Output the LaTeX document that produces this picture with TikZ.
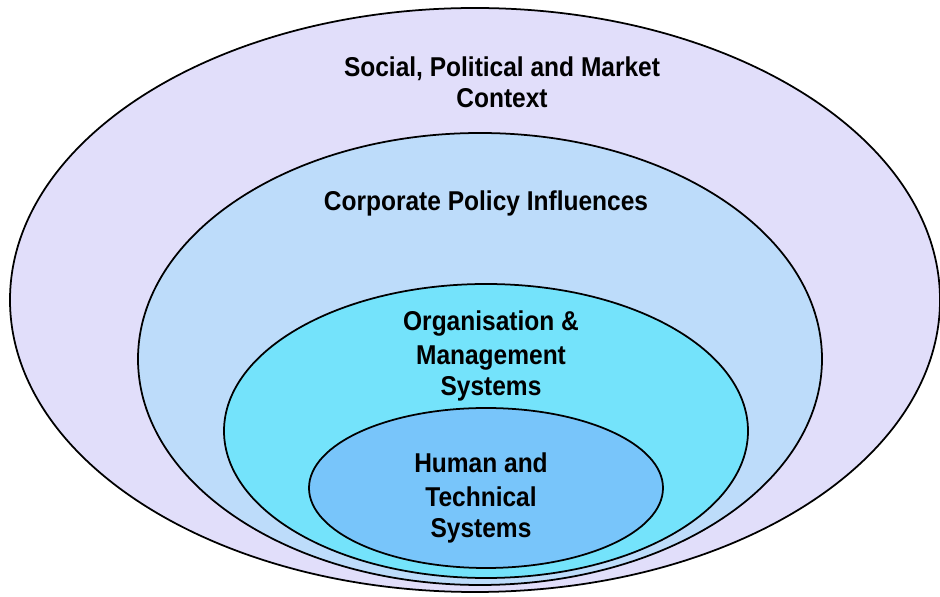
\documentclass[tikz,border=0pt]{standalone}
\usepackage{fontspec}
\setmainfont{Liberation Sans}[FakeStretch=0.9]
\definecolor{ctxcol}{RGB}{225,222,250}
\definecolor{polcol}{RGB}{189,220,250}
\definecolor{orgcol}{RGB}{116,227,251}
\definecolor{humcol}{RGB}{120,197,250}
\tikzset{
  layer/.style = {draw=black, line width=1pt},
  lbl/.style = {align=center, font=\fontsize{15.5}{17.6}\selectfont\bfseries, inner sep=0pt},
}
\begin{document}
\begin{tikzpicture}[x=0.02cm, y=-0.02cm]
	\useasboundingbox (0,0) rectangle (940,597);
	% nested layers, outermost first
	\draw[layer, fill=ctxcol] (475,300) ellipse [x radius=465, y radius=292];
	\draw[layer, fill=polcol] (480,359) ellipse [x radius=342, y radius=226];
	\draw[layer, fill=orgcol] (486,431) ellipse [x radius=262, y radius=147];
	\draw[layer, fill=humcol] (486,488) ellipse [x radius=177, y radius=80];
	% labels
	\node[lbl] (context) at (502,82) {Social, Political and Market\\Context};
	\node[lbl] (policy) at (486,203) {Corporate Policy Influences};
	\node[lbl] (org) at (491,356) {Organisation \&\\[2pt]Management\\Systems};
	\node[lbl] (human) at (481,498) {Human and\\[2pt]Technical\\Systems};
\end{tikzpicture}
\end{document}
